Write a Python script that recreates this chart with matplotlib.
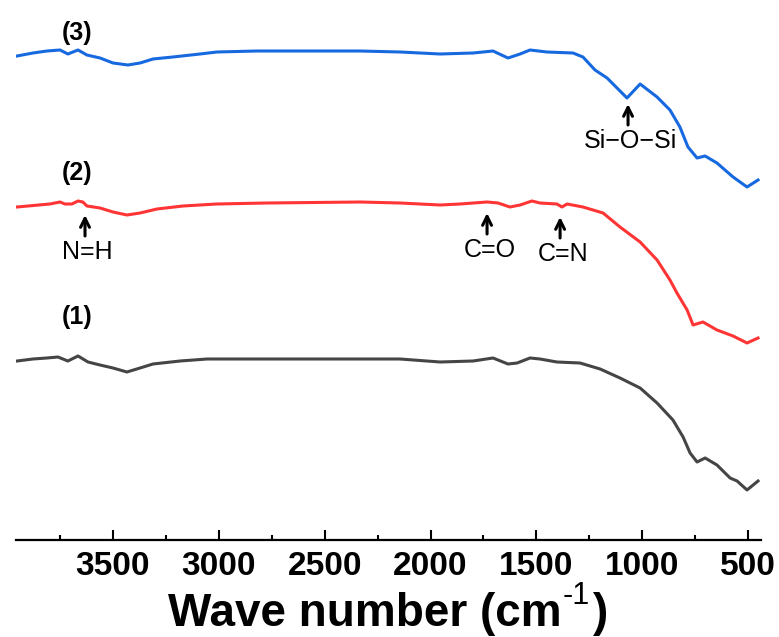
import matplotlib
matplotlib.use('Agg')
from matplotlib import pyplot as plt
from matplotlib.ticker import MultipleLocator

plt.rcParams['font.family'] = ['Liberation Sans', 'DejaVu Sans']

# wave number (cm-1) and transmittance (a.u., offset per curve)
wn_3 = [3953, 3878, 3812, 3750, 3713, 3665, 3623, 3561, 3500, 3429, 3372, 3311, 3217, 3089,
        3009, 2820, 2333, 2144, 1955, 1799, 1705, 1634, 1577, 1530, 1450, 1327, 1280, 1223,
        1166, 1072, 1010, 930, 869, 822, 784, 741, 703, 647, 571, 505, 453]
t_3 = [96.8, 97.4, 97.8, 98.0, 97.2, 98.0, 97.0, 96.4, 95.4, 95.0, 95.4, 96.2, 96.6, 97.2,
       97.6, 97.8, 97.8, 97.6, 97.2, 97.4, 97.8, 96.4, 97.2, 98.0, 97.6, 97.4, 96.6, 94.0,
       92.4, 88.4, 91.2, 88.6, 86.0, 82.6, 78.6, 76.4, 76.8, 75.4, 72.6, 70.6, 72.0]

wn_2 = [3953, 3798, 3750, 3727, 3694, 3665, 3642, 3623, 3561, 3500, 3434, 3372, 3292, 3169,
        3009, 2773, 2333, 2144, 1955, 1861, 1733, 1681, 1625, 1577, 1521, 1483, 1403, 1379,
        1355, 1280, 1185, 1105, 1010, 930, 869, 836, 788, 760, 713, 647, 571, 505, 453]
t_2 = [66.6, 67.2, 67.6, 67.2, 67.2, 67.8, 67.6, 66.8, 66.4, 65.6, 65.0, 65.4, 66.2, 66.8,
       67.2, 67.4, 67.6, 67.4, 67.0, 67.2, 67.6, 67.4, 66.6, 67.0, 67.8, 67.4, 67.2, 66.6,
       67.2, 66.6, 65.4, 62.6, 59.6, 56.0, 52.0, 49.4, 46.0, 43.0, 43.6, 42.0, 40.8, 39.4, 40.4]

wn_1 = [3953, 3878, 3812, 3760, 3713, 3665, 3618, 3561, 3500, 3434, 3372, 3311, 3183, 3056,
        2773, 2300, 2144, 1955, 1799, 1705, 1634, 1591, 1530, 1483, 1403, 1294, 1199, 1105,
        1010, 930, 855, 807, 774, 741, 703, 647, 585, 552, 505, 453]
t_1 = [35.8, 36.2, 36.4, 36.6, 35.8, 36.8, 35.6, 35.0, 34.4, 33.6, 34.4, 35.2, 35.8, 36.2,
       36.2, 36.2, 36.2, 35.6, 35.8, 36.4, 35.2, 35.4, 36.4, 36.2, 35.6, 35.4, 34.2, 32.4,
       30.4, 27.4, 24.0, 20.6, 17.4, 15.6, 16.4, 15.0, 12.4, 11.8, 10.0, 11.8]

# curve labels and band assignments
curve_labels = ['(1)', '(2)', '(3)']
label_y = [44.6, 73.4, 101.4]
bands = ['N=H', 'C=O', 'C=N', 'Si\u2212O\u2212Si']
band_wn = [3632, 1733, 1388, 1067]
band_tip = [65.0, 65.4, 64.6, 87.2]

W, H = 779, 637
fig = plt.figure(figsize=(W / 100, H / 100), dpi=100)
ax = fig.add_axes([16 / W, 1 - 540 / H, 745 / W, 540 / H])
ax.patch.set_visible(False)

ax.plot(wn_1, t_1, color='#454545', lw=2.2)
ax.plot(wn_2, t_2, color='#ff3535', lw=2.2)
ax.plot(wn_3, t_3, color='#1769e0', lw=2.2)

for lab, y in zip(curve_labels, label_y):
    ax.text(3670, y, lab, fontsize=18, fontweight='bold', ha='center', va='center')

for name, x, tip in zip(bands, band_wn, band_tip):
    ax.annotate('', xy=(x, tip), xytext=(x, tip - 4.2),
                arrowprops=dict(arrowstyle='->', lw=2.2, color='k',
                                shrinkA=0, shrinkB=0, mutation_scale=16))
    ax.text(x - 12, tip - 7.4, name, fontsize=18, ha='center', va='center')

ax.set_xlim(3958, 439)
ax.set_ylim(0, 108)
ax.xaxis.set_major_locator(MultipleLocator(500))
ax.xaxis.set_minor_locator(MultipleLocator(250))
for sp in ['left', 'right', 'top']:
    ax.spines[sp].set_visible(False)
ax.spines['bottom'].set_linewidth(1.6)
ax.set_yticks([])
ax.tick_params(axis='x', which='major', direction='in', length=7.5, width=1.5,
               labelsize=24, pad=8)
ax.tick_params(axis='x', which='minor', direction='in', length=3.8, width=1.5)
for tl in ax.get_xticklabels():
    tl.set_fontweight('bold')

# x label built from pieces so the superscript keeps a plain hyphen
r = fig.canvas.get_renderer()
ta = fig.text(0, (H - 626) / H, 'Wave number (cm', fontsize=33, fontweight='bold', va='baseline')
tb = fig.text(0, (H - 604) / H, '-1', fontsize=22, va='baseline')
tc = fig.text(0, (H - 626) / H, ')', fontsize=33, fontweight='bold', va='baseline')
wa = ta.get_window_extent(r).width
wb = tb.get_window_extent(r).width
wc = tc.get_window_extent(r).width
x0 = 388 - (wa + wb + wc + 4) / 2
ta.set_x(x0 / W)
tb.set_x((x0 + wa + 1) / W)
tc.set_x((x0 + wa + wb + 4) / W)

fig.savefig('out.png', dpi=100)
